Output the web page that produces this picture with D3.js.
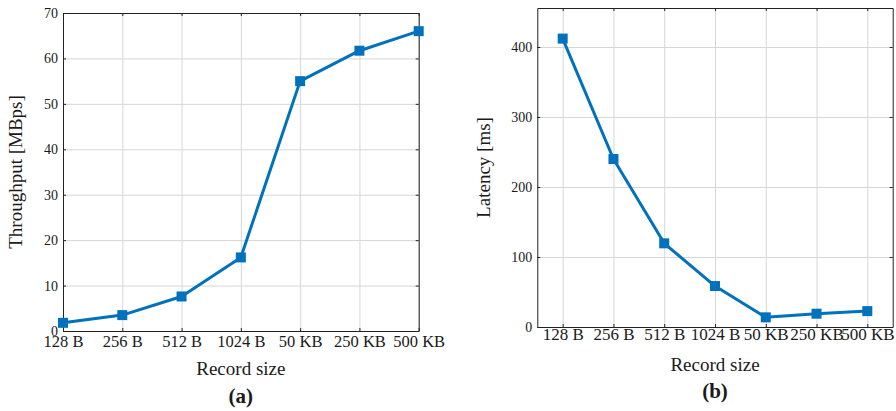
<!DOCTYPE html>
<html>
<head>
<meta charset="utf-8">
<script src="https://cdn.jsdelivr.net/npm/d3@7"></script>
<style>
  html, body { margin: 0; padding: 0; background: #fff; }
  svg { display: block; }
  text { font-family: "Liberation Serif", "Times New Roman", serif; fill: #1a1a1a; }
</style>
</head>
<body>
<svg id="chart" width="896" height="411"></svg>
<script>
// ---- data ----
const categories = ["128 B", "256 B", "512 B", "1024 B", "50 KB", "250 KB", "500 KB"];
const throughput = [1.8, 3.5, 7.6, 16.2, 55.0, 61.7, 66.0];
const latency = [412, 240, 119.5, 58.5, 13.8, 19, 22.7];
const throughputTicks = [0, 10, 20, 30, 40, 50, 60, 70];
const latencyTicks = [0, 100, 200, 300, 400];
const xTitle = "Record size";
const yTitles = ["Throughput [MBps]", "Latency [ms]"];
const panelLabels = ["(a)", "(b)"];

const BLUE = "#0072BD";
const GRID = "#d6d6d6";
const AXIS = "#222";

const svg = d3.select("#chart");
svg.append("rect").attr("width", 896).attr("height", 411).attr("fill", "#fff");

function panel(cfg) {
  const { left, right, top, bottom, xPadding, yDomain, yTicks, values,
          xFont, yFont, xPad, yTitle, yTitleX, titleY, labelY, label } = cfg;
  const x = d3.scalePoint().domain(categories).range([left, right]).padding(xPadding);
  const y = d3.scaleLinear().domain(yDomain).range([bottom, top]);
  const g = svg.append("g");
  const w = right - left, h = bottom - top;

  // grid
  const grid = g.append("g");
  grid.append("g").attr("transform", `translate(0,${bottom})`)
    .call(d3.axisBottom(x).tickSize(-h).tickFormat(""))
    .call(s => s.select(".domain").remove())
    .call(s => s.selectAll("line").attr("stroke", GRID));
  grid.append("g").attr("transform", `translate(${left},0)`)
    .call(d3.axisLeft(y).tickValues(yTicks).tickSize(-w).tickFormat(""))
    .call(s => s.select(".domain").remove())
    .call(s => s.selectAll("line").attr("stroke", GRID));

  // axes with inside ticks
  const ax = g.append("g");
  const bx = ax.append("g").attr("transform", `translate(0,${bottom})`)
    .call(d3.axisBottom(x).tickSizeInner(-3).tickSizeOuter(0).tickPadding(xPad));
  const tx = ax.append("g").attr("transform", `translate(0,${top})`)
    .call(d3.axisTop(x).tickSizeInner(-3).tickSizeOuter(0).tickFormat(""));
  const ly = ax.append("g").attr("transform", `translate(${left},0)`)
    .call(d3.axisLeft(y).tickValues(yTicks).tickSizeInner(-3).tickSizeOuter(0).tickPadding(5));
  const ry = ax.append("g").attr("transform", `translate(${right},0)`)
    .call(d3.axisRight(y).tickValues(yTicks).tickSizeInner(-3).tickSizeOuter(0).tickFormat(""));
  ax.selectAll(".domain").attr("stroke", AXIS);
  ax.selectAll(".tick line").attr("stroke", AXIS);
  ax.selectAll("text").attr("font-family", "Liberation Serif, serif").attr("fill", "#1a1a1a");
  bx.selectAll("text").attr("font-size", xFont);
  ly.selectAll("text").attr("font-size", yFont);
  // make sure full box edges
  // (domain paths span range; for point scale with padding they span full range)

  // line + markers
  const line = d3.line().x((d, i) => x(categories[i])).y(d => y(d));
  g.append("path").datum(values).attr("d", line)
    .attr("fill", "none").attr("stroke", BLUE).attr("stroke-width", 3)
    .attr("stroke-linejoin", "round");
  const ms = 10;
  g.selectAll("rect.m").data(values).join("rect").attr("class", "m")
    .attr("x", (d, i) => x(categories[i]) - ms / 2)
    .attr("y", d => y(d) - ms / 2)
    .attr("width", ms).attr("height", ms)
    .attr("fill", BLUE);

  // titles
  const cx = (left + right) / 2;
  g.append("text").attr("x", cx).attr("y", titleY).attr("text-anchor", "middle")
    .attr("font-size", 19).text(xTitle);
  g.append("text")
    .attr("transform", `translate(${yTitleX},${(top + bottom) / 2}) rotate(-90)`)
    .attr("text-anchor", "middle").attr("dy", "0.32em")
    .attr("font-size", 19).text(yTitle);
  g.append("text").attr("x", cx).attr("y", labelY).attr("text-anchor", "middle")
    .attr("font-size", 21).attr("font-weight", "bold").text(label);
}

panel({
  left: 63, right: 418.7, top: 13, bottom: 331, xPadding: 0,
  yDomain: [0, 70], yTicks: throughputTicks, values: throughput,
  xFont: 16.5, yFont: 14, xPad: 4.5,
  yTitle: yTitles[0], yTitleX: 16, titleY: 375, labelY: 403, label: panelLabels[0]
});
panel({
  left: 537.3, right: 892.7, top: 8, bottom: 327, xPadding: 0.5,
  yDomain: [0, 455.7], yTicks: latencyTicks, values: latency,
  xFont: 17, yFont: 14, xPad: 1,
  yTitle: yTitles[1], yTitleX: 484, titleY: 371, labelY: 398, label: panelLabels[1]
});
</script>
</body>
</html>
